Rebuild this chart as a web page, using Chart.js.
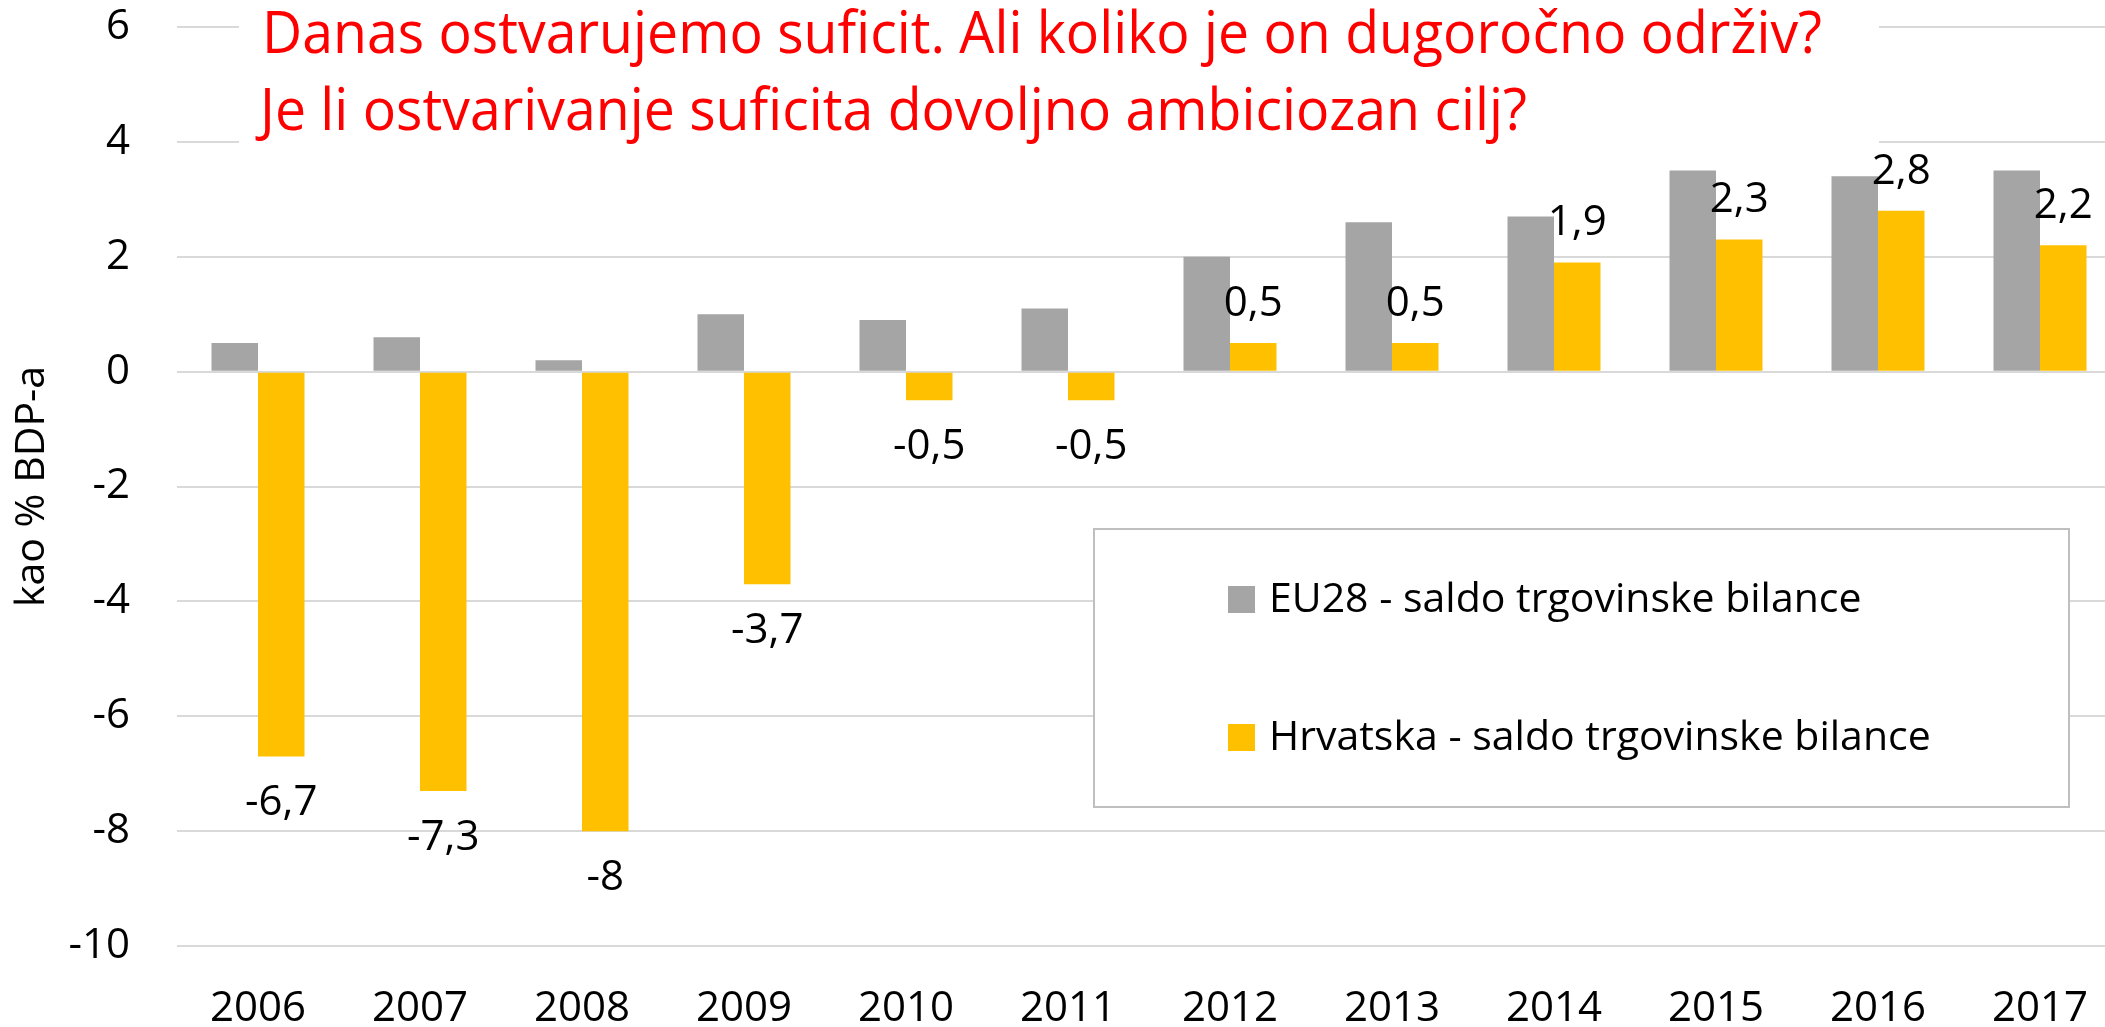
<!DOCTYPE html>
<html>
<head>
<meta charset="utf-8">
<script src="https://cdn.jsdelivr.net/npm/chart.js@4.4.1/dist/chart.umd.min.js"></script>
<style>
  html, body { margin: 0; padding: 0; background: #fff; overflow: hidden; }
  #okvir { position: relative; width: 2130px; height: 1027px; }
</style>
</head>
<body>
<div id="okvir"><canvas id="grafikon"></canvas></div>
<script>
const godine = ["2006", "2007", "2008", "2009", "2010", "2011", "2012", "2013", "2014", "2015", "2016", "2017"];
const eu28 = [0.5, 0.6, 0.2, 1.0, 0.9, 1.1, 2.0, 2.6, 2.7, 3.5, 3.4, 3.5];
const hrvatska = [-6.7, -7.3, -8, -3.7, -0.5, -0.5, 0.5, 0.5, 1.9, 2.3, 2.8, 2.2];
const yOznake = [-10, -8, -6, -4, -2, 0, 2, 4, 6];
const naslov = [
  "Danas ostvarujemo suficit. Ali koliko je on dugoročno održiv?",
  "Je li ostvarivanje suficita dovoljno ambiciozan cilj?"
];
const nazivi = ["EU28 - saldo trgovinske bilance", "Hrvatska - saldo trgovinske bilance"];

const FONT = "'Open Sans', 'DejaVu Sans', sans-serif";

function broj(v) {
  return String(v).replace(".", ",");
}

// naslov preko gornjih linija mreze
const naslovPlugin = {
  id: "naslov",
  beforeDatasetsDraw(chart) {
    const ctx = chart.ctx;
    ctx.save();
    ctx.fillStyle = "#fff";
    ctx.fillRect(239, 0, 1640, 152);
    ctx.font = "58px " + FONT;
    ctx.fillStyle = "#ff0000";
    ctx.textBaseline = "alphabetic";
    ctx.textAlign = "left";
    const w1 = ctx.measureText(naslov[0]).width;
    const r = Math.min(1, 1560 / w1);
    ctx.fillText(naslov[0], 262, 53, w1 * r);
    const w2 = ctx.measureText(naslov[1]).width;
    ctx.fillText(naslov[1], 260, 130, w2 * r);
    ctx.restore();
  }
};

// vrijednosti iznad/ispod zutih stupaca + legenda u okviru
const oznakePlugin = {
  id: "oznake",
  afterDatasetsDraw(chart) {
    const ctx = chart.ctx;
    ctx.save();
    ctx.font = "42px " + FONT;
    ctx.fillStyle = "#000";
    ctx.textAlign = "center";
    ctx.textBaseline = "middle";
    chart.getDatasetMeta(1).data.forEach((bar, i) => {
      const v = hrvatska[i];
      const y = v >= 0 ? bar.y - 39 : bar.y + 47;
      ctx.fillText(broj(v), bar.x, y);
    });

    // legenda
    ctx.fillStyle = "#fff";
    ctx.fillRect(1094, 529, 975, 278);
    ctx.strokeStyle = "#bfbfbf";
    ctx.lineWidth = 2;
    ctx.strokeRect(1094, 529, 975, 278);
    const redovi = [600, 738];
    const sirine = [604, 672];
    ctx.font = "41px " + FONT;
    ctx.textAlign = "left";
    chart.data.datasets.forEach((ds, i) => {
      ctx.fillStyle = ds.backgroundColor;
      ctx.fillRect(1228, redovi[i] - 14, 27, 27);
      ctx.fillStyle = "#000";
      const w = ctx.measureText(nazivi[i]).width;
      ctx.fillText(nazivi[i], 1269, redovi[i], Math.min(w, sirine[i]));
    });
    ctx.restore();
  }
};

new Chart(document.getElementById("grafikon"), {
  type: "bar",
  data: {
    labels: godine,
    datasets: [{
      label: nazivi[0],
      data: eu28,
      backgroundColor: "#a5a5a5",
      categoryPercentage: 0.574,
      barPercentage: 1
    }, {
      label: nazivi[1],
      data: hrvatska,
      backgroundColor: "#ffc000",
      categoryPercentage: 0.574,
      barPercentage: 1
    }]
  },
  options: {
    responsive: true,
    maintainAspectRatio: false,
    animation: false,
    layout: { padding: { top: 27, right: 9, bottom: 0, left: 0 } },
    plugins: {
      legend: { display: false },
      tooltip: { enabled: false }
    },
    scales: {
      x: {
        grid: { display: false },
        border: { display: false },
        ticks: {
          color: "#000",
          font: { family: FONT, size: 42 },
          padding: 30,
          maxRotation: 0
        },
        afterFit(scale) { scale.height = 81; }
      },
      y: {
        min: -10,
        max: 6,
        afterBuildTicks(scale) {
          scale.ticks = yOznake.map(v => ({ value: v }));
        },
        grid: {
          color: "#d9d9d9",
          lineWidth: 2,
          drawTicks: true,
          tickLength: 47,
          tickColor: "rgba(0,0,0,0)"
        },
        border: { display: false },
        ticks: {
          color: "#000",
          font: { family: FONT, size: 42 },
          padding: 0
        },
        title: {
          display: true,
          text: "kao % BDP-a",
          color: "#000",
          font: { family: FONT, size: 41 },
          padding: { top: 8, bottom: 0 }
        },
        afterFit(scale) { scale.width = 177; }
      }
    }
  },
  plugins: [naslovPlugin, oznakePlugin]
});
</script>
</body>
</html>
